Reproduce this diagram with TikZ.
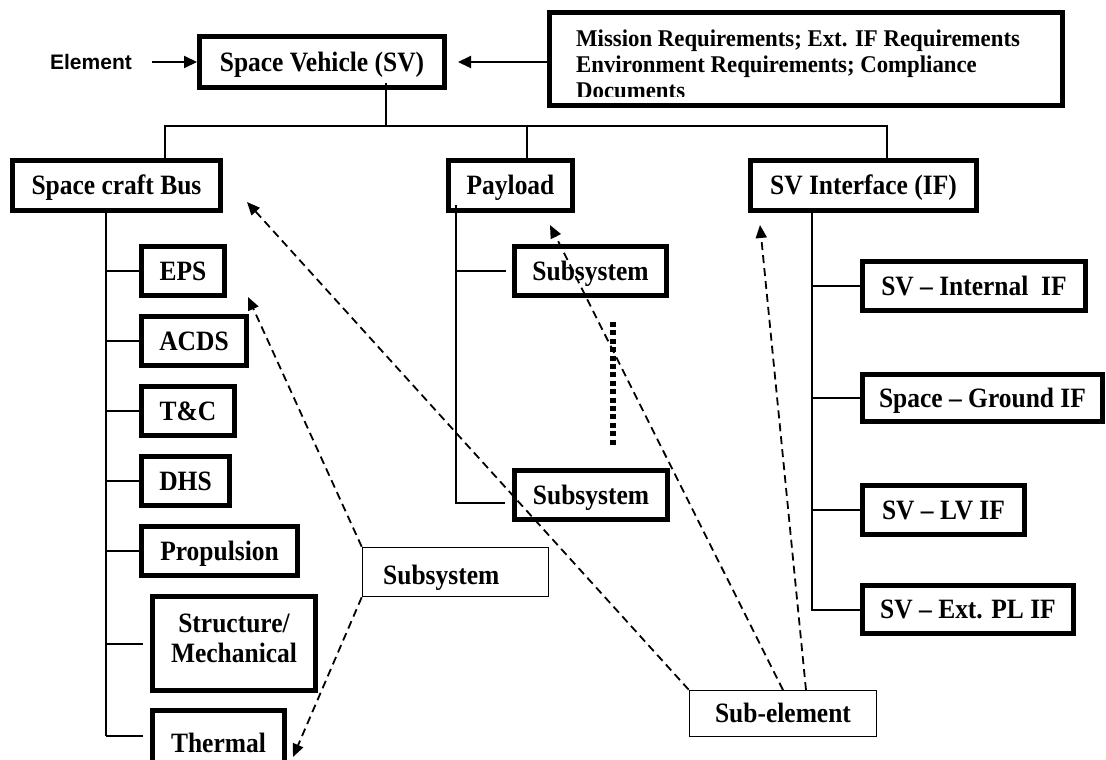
\documentclass[tikz,border=0pt]{standalone}
\usepackage{fontspec}
\setmainfont{Liberation Serif}
\newfontfamily\boxfont[FakeStretch=0.91,Ligatures=TeX]{Liberation Serif}
\newfontfamily\reqfont[FakeStretch=0.95,Ligatures=TeX]{Liberation Serif}
\newfontfamily\elemfont{Liberation Sans}
\usetikzlibrary{arrows.meta}
\tikzset{
  tbox/.style={draw, line width=5pt, inner sep=0pt, align=center,
    font=\boxfont\bfseries\fontsize{28}{30}\selectfont,
    text height=18.5pt, text depth=0pt},
  nbox/.style={draw, line width=1.6pt, inner sep=0pt},
  lbl/.style={inner sep=0pt, font=\boxfont\bfseries\fontsize{28}{30}\selectfont,
    text height=18.5pt, text depth=0pt},
  reqline/.style={inner sep=0pt, anchor=base west,
    font=\reqfont\bfseries\fontsize{24}{26}\selectfont},
  wire/.style={line width=2pt},
  dline/.style={line width=1.8pt, dash pattern=on 8pt off 5pt,
    -{Triangle[length=13pt,width=11pt]}},
  harrow/.style={line width=2pt, -{Triangle[length=13pt,width=12pt]}},
}
\begin{document}
\begin{tikzpicture}[x=1pt,y=-1pt]
\useasboundingbox (0,0) rectangle (1106,760);
% top
\node[inner sep=0pt, font=\elemfont\bfseries\fontsize{21}{24}\selectfont,
  text height=15pt, text depth=0pt] (elem) at (91,62) {Element};
\node[tbox, minimum width=245pt, minimum height=51pt] (sv) at (322,62) {Space Vehicle (SV)};
\node[draw, line width=5pt, minimum width=513pt, minimum height=93pt, inner sep=0pt] (req) at (806,59) {};
\begin{scope}
  \clip (549,13) rectangle (1063,96);
  \node[reqline] (reqa) at (576,47) {Mission Requirements; Ext. IF Requirements};
  \node[reqline] (reqb) at (576,73) {Environment Requirements; Compliance};
  \node[reqline] (reqc) at (576,99) {Documents};
\end{scope}
\coordinate (elemstart) at (152,62);
\draw[harrow] (elemstart) -- (sv.west);
\coordinate (reqtip) at (458,62);
\draw[harrow] (req.west |- reqtip) -- (reqtip);
% level 1
\node[tbox, minimum width=208pt, minimum height=50pt] (bus) at (116.5,185.5) {Space craft Bus};
\node[tbox, minimum width=124pt, minimum height=50pt] (pl) at (510.5,185.5) {Payload};
\node[tbox, minimum width=226pt, minimum height=50pt] (svif) at (863.5,185.5) {SV Interface (IF)};
\coordinate (jtop) at (386,83);
\coordinate (j) at (386,126);
\coordinate (jl) at (165,126);
\coordinate (jm) at (527,126);
\coordinate (jr) at (887,126);
\draw[wire] (jtop) -- (j);
\draw[wire] (jl |- bus.north) -- (jl) -- (jr) -- (jr |- svif.north);
\draw[wire] (jm) -- (jm |- pl.north);
% bus children
\node[tbox, minimum width=83pt, minimum height=49pt] (eps) at (183,271) {EPS};
\node[tbox, minimum width=105pt, minimum height=49pt] (acds) at (194,341) {ACDS};
\node[tbox, minimum width=93pt, minimum height=49pt] (tc) at (188,411) {T\&C};
\node[tbox, minimum width=88pt, minimum height=49pt] (dhs) at (185.5,481) {DHS};
\node[tbox, minimum width=156pt, minimum height=49pt] (prop) at (219.5,551) {Propulsion};
\node[tbox, minimum width=163pt, minimum height=94pt] (struct) at (234,643.5) {};
\node[inner sep=0pt, align=center, font=\boxfont\bfseries\fontsize{28}{30}\selectfont]
  (structtext) at (234,638) {Structure/\\Mechanical};
\node[tbox, minimum width=132pt, minimum height=65pt] (therm) at (218.5,743) {Thermal};
\coordinate (bl) at (106,213);
\coordinate (blend) at (106,736);
\draw[wire] (bl) -- (blend);
\foreach \n in {eps,acds,tc,dhs,prop}{
  \draw[wire] (bl |- \n.west) -- (\n.west);
}
\draw[wire] (bl |- struct.west) -- ([xshift=-7pt]struct.west);
\draw[wire] (blend) -- ([xshift=-7pt]blend -| therm.west);
% payload children
\node[tbox, minimum width=152pt, minimum height=49pt] (ps1) at (590.5,271) {Subsystem};
\node[tbox, minimum width=153pt, minimum height=49pt] (ps2) at (591,495) {Subsystem};
\coordinate (pv) at (456,205);
\coordinate (pvend) at (456,503);
\draw[wire] (pv) -- (pvend) -- ([xshift=-7pt]pvend -| ps2.west);
\draw[wire] (pv |- ps1.west) -- ([xshift=-6pt]ps1.west);
\coordinate (dots1) at (613,322);
\coordinate (dots2) at (613,445);
\draw[line width=5.5pt, dash pattern=on 5pt off 3.4pt] (dots1) -- (dots2);
% SV IF children
\node[tbox, minimum width=223pt, minimum height=49pt] (iif) at (974,286) {SV – Internal\ \ IF};
\node[tbox, minimum width=240pt, minimum height=47pt] (sgif) at (982.5,398) {Space – Ground IF};
\node[tbox, minimum width=162pt, minimum height=49pt] (lvif) at (943.5,510) {SV – LV IF};
\node[tbox, minimum width=211pt, minimum height=48pt] (plif) at (968,609.5) {SV – Ext. PL IF};
\coordinate (sr) at (812,213);
\draw[wire] (sr) -- (sr |- plif.west) -- (plif.west);
\foreach \n in {iif,sgif,lvif}{
  \draw[wire] (sr |- \n.west) -- (\n.west);
}
% labels
\node[nbox, minimum width=186pt, minimum height=49pt] (subl) at (455.5,572) {};
\node[lbl, anchor=west] (subltext) at (383,575) {Subsystem};
\node[nbox, minimum width=187pt, minimum height=46pt, lbl] (sube) at (783,713.5) {Sub-element};
% dashed arrows
\coordinate (t1) at (247,202);
\coordinate (t2) at (550,225);
\coordinate (t3) at (760,225);
\coordinate (t4) at (248,297);
\coordinate (t5) at (293,757);
\coordinate (s2) at (783,690);
\coordinate (s3) at (806,690);
\draw[dline] (sube.north west) -- (t1);
\draw[dline] (s2) -- (t2);
\draw[dline] (s3) -- (t3);
\draw[dline] (subl.north west) -- (t4);
\draw[dline] (subl.south west) -- (t5);
\end{tikzpicture}
\end{document}
